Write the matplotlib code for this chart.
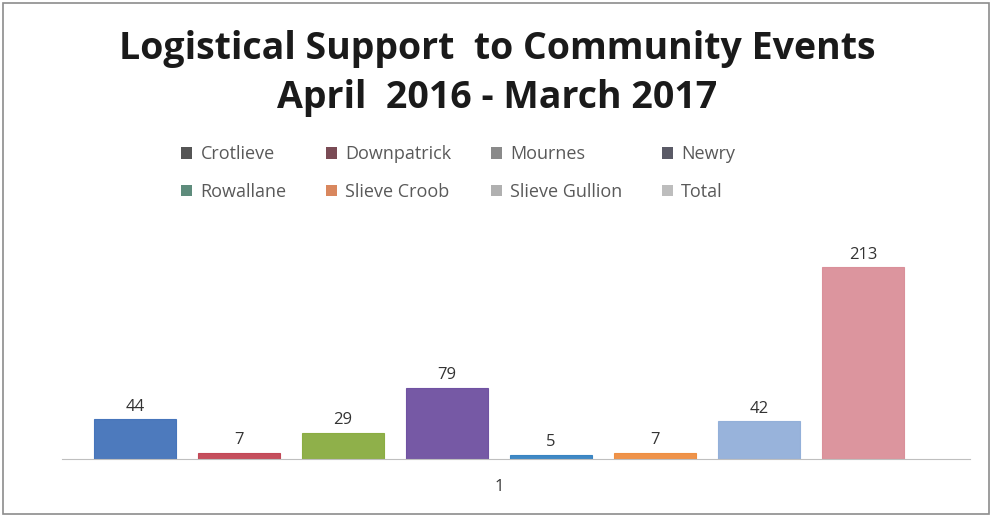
import matplotlib.pyplot as plt
from matplotlib.patches import Patch, Rectangle

# data
areas = ["Crotlieve", "Downpatrick", "Mournes", "Newry",
         "Rowallane", "Slieve Croob", "Slieve Gullion", "Total"]
events = [44, 7, 29, 79, 5, 7, 42, 213]
bar_colors = ["#3E6FB8", "#C0404F", "#86AA3A", "#6A4B9E",
              "#2F7FC0", "#EE8A3A", "#8FADD8", "#D98C96"]
legend_colors = ["#555555", "#7A4B55", "#8A8A8A", "#5A5A66",
                 "#5E8C7C", "#D9875E", "#B0B0B0", "#BDBDBD"]
category = "1"

fig = plt.figure(figsize=(9.94, 5.17), dpi=100)
ax = fig.add_axes([0.062, 0.112, 0.914, 0.443])

step = 0.1145
width = 0.0903
for i, (name, val, c) in enumerate(zip(areas, events, bar_colors)):
    x = 1 + (i - 3.5) * step
    ax.bar(x, val, width=width, color=c, edgecolor=c, linewidth=0.8, alpha=0.92)
    ax.text(x, val + 5, str(val), ha="center", va="bottom",
            fontsize=12, color="#333333", family="Open Sans")

x0 = 1 - 437 / 908
ax.set_xlim(x0, x0 + 1)
ax.set_ylim(0, 254)
ax.set_xticks([1])
ax.set_xticklabels([category], fontsize=12, color="#333333", family="Open Sans")
ax.tick_params(axis="x", length=0, pad=14)
ax.set_yticks([])
for s in ["left", "right", "top"]:
    ax.spines[s].set_visible(False)
ax.spines["bottom"].set_color("#BFBFBF")

fig.text(0.5, 0.905, "Logistical Support  to Community Events",
         ha="center", va="center", fontsize=27, fontweight="bold",
         family="Open Sans", color="#1a1a1a")
fig.text(0.5, 0.81, "April  2016 - March 2017",
         ha="center", va="center", fontsize=27, fontweight="bold",
         family="Open Sans", color="#1a1a1a")

# legend fills column-wise, so reorder to read row by row
order = [0, 4, 1, 5, 2, 6, 3, 7]
handles = [Patch(facecolor=legend_colors[i], edgecolor="none") for i in order]
labels = [areas[i] for i in order]
fig.legend(handles, labels, ncol=4, loc="center", bbox_to_anchor=(0.461, 0.665),
           frameon=False, prop={"family": "Open Sans", "size": 13},
           labelcolor="#595959", handlelength=0.6, handleheight=0.6,
           handletextpad=0.45, columnspacing=2.2, labelspacing=1.1)

fig.patches.append(Rectangle((0.003, 0.006), 0.992, 0.988, transform=fig.transFigure,
                             fill=False, edgecolor="#8C8C8C", linewidth=1.2))

fig.savefig("out.png", dpi=100, facecolor="white")
